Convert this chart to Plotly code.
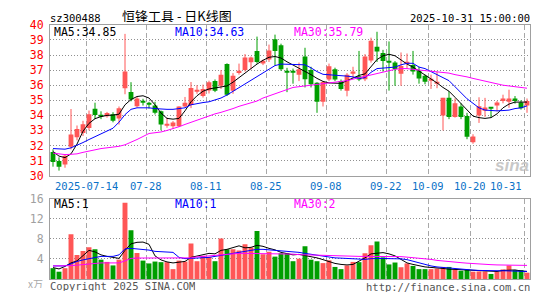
import plotly.graph_objects as go

DATES = [
    "2025-07-04", "2025-07-07", "2025-07-08", "2025-07-09", "2025-07-10", "2025-07-11",
    "2025-07-14", "2025-07-15", "2025-07-16", "2025-07-17", "2025-07-18", "2025-07-21",
    "2025-07-22", "2025-07-23", "2025-07-24", "2025-07-25", "2025-07-28", "2025-07-29",
    "2025-07-30", "2025-07-31", "2025-08-01", "2025-08-04", "2025-08-05", "2025-08-06",
    "2025-08-07", "2025-08-08", "2025-08-11", "2025-08-12", "2025-08-13", "2025-08-14",
    "2025-08-15", "2025-08-18", "2025-08-19", "2025-08-20", "2025-08-21", "2025-08-22",
    "2025-08-25", "2025-08-26", "2025-08-27", "2025-08-28", "2025-08-29", "2025-09-01",
    "2025-09-02", "2025-09-03", "2025-09-04", "2025-09-05", "2025-09-08", "2025-09-09",
    "2025-09-10", "2025-09-11", "2025-09-12", "2025-09-15", "2025-09-16", "2025-09-17",
    "2025-09-18", "2025-09-19", "2025-09-22", "2025-09-23", "2025-09-24", "2025-09-25",
    "2025-09-26", "2025-09-29", "2025-09-30", "2025-10-09", "2025-10-10", "2025-10-13",
    "2025-10-14", "2025-10-15", "2025-10-16", "2025-10-17", "2025-10-20", "2025-10-21",
    "2025-10-22", "2025-10-23", "2025-10-24", "2025-10-27", "2025-10-28", "2025-10-29",
    "2025-10-30", "2025-10-31",
]

OPEN = [31.58, 30.97, 30.74, 31.92, 32.55, 32.84, 33.16, 34.44, 34.02, 33.94,
        34.08, 33.79, 35.80, 35.55, 34.60, 34.97, 34.80, 34.65, 34.27, 33.31,
        33.28, 33.28, 34.59, 34.69, 35.58, 35.28, 35.65, 36.27, 35.96, 37.41,
        35.64, 36.80, 37.01, 37.52, 38.27, 37.43, 37.71, 39.05, 38.65, 36.88,
        36.88, 36.70, 37.90, 37.01, 36.17, 34.91, 36.38, 37.05, 36.27, 35.64,
        36.80, 36.59, 36.40, 37.64, 38.55, 38.13, 37.56, 37.50, 36.76, 37.42,
        37.33, 36.95, 36.63, 36.30, 36.15, 34.00, 35.16, 33.90, 34.59, 33.96,
        32.22, 34.00, 34.30, 34.52, 34.65, 34.95, 34.90, 35.12, 34.86, 34.65]
HIGH = [31.75, 31.22, 31.43, 34.42, 33.33, 33.64, 34.32, 34.84, 34.27, 34.23,
        34.21, 34.59, 39.40, 36.20, 35.22, 35.10, 34.90, 34.90, 34.32, 33.85,
        33.62, 34.60, 35.22, 36.21, 36.00, 36.04, 36.30, 36.38, 37.00, 37.45,
        36.80, 37.43, 38.06, 37.90, 39.22, 37.70, 38.69, 39.35, 38.75, 37.15,
        37.10, 37.50, 38.48, 37.22, 36.20, 36.27, 37.43, 37.16, 36.38, 36.80,
        37.22, 38.27, 38.06, 39.15, 39.54, 38.34, 38.90, 37.60, 38.17, 38.10,
        38.27, 37.22, 36.70, 36.70, 36.90, 35.16, 35.60, 35.12, 34.80, 34.17,
        32.75, 35.20, 35.16, 34.55, 34.95, 35.37, 35.70, 35.28, 35.00, 35.12]
LOW = [30.60, 30.34, 30.53, 31.75, 32.34, 32.63, 33.01, 33.75, 33.75, 33.85,
       33.54, 33.39, 35.40, 34.93, 34.53, 34.65, 34.45, 34.06, 33.01, 33.18,
       33.10, 33.22, 34.53, 34.48, 35.43, 35.18, 35.45, 35.54, 35.75, 35.28,
       35.43, 36.70, 36.90, 37.05, 37.43, 37.33, 37.54, 37.30, 36.95, 35.54,
       36.10, 36.27, 35.85, 35.85, 34.17, 34.59, 36.27, 36.27, 35.64, 35.26,
       36.48, 36.27, 36.27, 37.50, 37.54, 36.90, 35.64, 35.96, 35.96, 37.10,
       36.70, 36.10, 36.06, 35.75, 35.80, 33.00, 33.75, 33.85, 33.75, 32.42,
       32.12, 33.50, 33.90, 33.85, 34.27, 34.80, 34.50, 34.78, 34.38, 34.17]
CLOSE = [30.91, 30.59, 31.33, 32.74, 33.09, 33.41, 34.08, 34.02, 33.96, 34.15,
         33.64, 34.48, 36.90, 35.05, 35.12, 34.84, 34.70, 34.17, 33.39, 33.39,
         33.53, 34.59, 34.84, 35.81, 35.68, 35.75, 36.20, 35.64, 36.70, 35.37,
         36.63, 36.95, 37.83, 37.83, 37.54, 37.62, 38.30, 38.27, 37.05, 36.83,
         36.83, 37.05, 36.40, 36.06, 34.91, 36.21, 37.26, 36.38, 35.75, 36.69,
         36.90, 36.38, 37.90, 38.95, 38.23, 37.60, 37.52, 37.07, 37.28, 37.50,
         36.91, 36.44, 36.23, 36.35, 36.20, 35.16, 33.90, 34.80, 33.90, 32.59,
         32.60, 34.60, 34.52, 34.44, 34.86, 35.12, 35.12, 34.95, 34.48, 34.95]

MA5 = [31.60, 31.30, 31.20, 31.45, 32.10, 32.95, 33.47, 33.78, 33.92, 34.00,
       34.02, 34.08, 34.70, 35.05, 35.25, 35.30, 35.15, 34.70, 34.15, 33.80,
       33.75, 33.80, 34.30, 34.90, 35.30, 35.60, 35.75, 35.80, 35.90, 35.95,
       36.20, 36.50, 36.85, 37.10, 37.40, 37.65, 37.85, 37.90, 37.80, 37.55,
       37.35, 37.15, 36.95, 36.70, 36.45, 36.25, 36.15, 36.12, 36.12, 36.30,
       36.50, 36.65, 36.75, 37.25, 37.70, 37.95, 38.05, 37.95, 37.65, 37.40,
       37.20, 36.95, 36.70, 36.45, 36.15, 35.85, 35.60, 35.20, 34.80, 34.35,
       33.95, 33.85, 33.80, 33.85, 34.10, 34.50, 34.75, 34.88, 34.90, 34.88]
MA10 = [31.80, 31.78, 31.76, 31.85, 32.00, 32.20, 32.40, 32.60, 32.80, 32.95,
        33.15, 33.55, 34.05, 34.40, 34.50, 34.50, 34.50, 34.45, 34.40, 34.40,
        34.40, 34.45, 34.50, 34.70, 34.80, 34.85, 34.90, 35.00, 35.15, 35.35,
        35.60, 35.85, 36.10, 36.35, 36.60, 36.85, 37.10, 37.30, 37.40, 37.40,
        37.40, 37.40, 37.35, 37.15, 36.90, 36.72, 36.70, 36.68, 36.66, 36.60,
        36.55, 36.45, 36.50, 36.85, 37.10, 37.15, 37.18, 37.20, 37.35, 37.45,
        37.45, 37.20, 37.10, 36.90, 36.70, 36.50, 36.30, 35.90, 35.50, 35.10,
        34.80, 34.50, 34.35, 34.30, 34.30, 34.32, 34.35, 34.45, 34.50, 34.63]
MA30 = [31.50, 31.45, 31.40, 31.42, 31.45, 31.55, 31.65, 31.72, 31.80, 31.85,
        31.90, 31.95, 32.05, 32.20, 32.40, 32.60, 32.80, 32.85, 32.90, 33.00,
        33.10, 33.25, 33.40, 33.55, 33.70, 33.85, 34.00, 34.10, 34.20, 34.30,
        34.45, 34.60, 34.70, 34.80, 34.95, 35.15, 35.30, 35.45, 35.60, 35.75,
        35.85, 35.90, 35.95, 36.00, 36.05, 36.10, 36.15, 36.20, 36.25, 36.30,
        36.40, 36.50, 36.60, 36.70, 36.80, 36.90, 37.00, 37.05, 37.10, 37.10,
        37.05, 37.00, 36.98, 36.95, 36.90, 36.85, 36.80, 36.70, 36.65, 36.55,
        36.45, 36.35, 36.25, 36.15, 36.05, 36.00, 35.95, 35.90, 35.85, 35.80]

VOLUME = [2.15, 1.45, 2.15, 8.90, 4.80, 5.56, 6.30, 5.93, 3.85, 3.40,
          2.70, 3.85, 15.2, 9.70, 5.18, 3.66, 3.10, 3.47, 3.35, 3.35,
          1.96, 3.66, 3.47, 7.07, 3.54, 4.60, 4.40, 3.54, 8.08, 5.93,
          5.93, 5.68, 6.94, 6.25, 9.53, 4.92, 5.43, 4.45, 5.10, 5.10,
          3.54, 4.04, 6.50, 3.85, 3.54, 3.16, 3.72, 2.40, 1.96, 2.70,
          3.40, 3.35, 5.10, 6.70, 7.45, 4.30, 2.90, 3.28, 2.34, 3.10,
          2.60, 1.96, 1.96, 1.96, 2.08, 2.40, 2.40, 1.83, 1.64, 1.83,
          1.45, 1.50, 1.50, 1.00, 1.45, 1.90, 2.70, 1.77, 1.77, 1.26]
VMA5 = [2.27, 2.00, 2.50, 3.20, 3.60, 4.60, 5.70, 5.40, 4.80, 4.50,
        4.30, 4.10, 5.70, 7.00, 7.30, 7.35, 6.90, 4.60, 3.80, 3.40,
        3.20, 3.30, 3.50, 4.30, 4.60, 4.80, 5.10, 5.00, 5.70, 5.90,
        6.20, 6.60, 6.20, 6.30, 6.70, 6.50, 6.10, 5.80, 5.30, 5.00,
        4.80, 4.90, 4.70, 4.50, 4.20, 3.85, 3.40, 3.10, 2.90, 2.80,
        2.90, 3.50, 4.20, 5.00, 5.20, 5.25, 5.00, 4.60, 3.90, 3.20,
        2.90, 2.60, 2.40, 2.30, 2.27, 2.10, 1.96, 1.90, 1.80, 1.75,
        1.65, 1.55, 1.50, 1.50, 1.50, 1.70, 1.80, 1.80, 1.60, 1.50]
VMA10 = [2.60, 2.60, 2.60, 3.00, 3.50, 3.80, 4.00, 4.30, 4.50, 4.50,
         4.50, 4.80, 6.00, 6.10, 6.00, 5.90, 5.75, 5.50, 5.40, 5.35,
         5.30, 4.30, 4.05, 4.10, 4.15, 4.20, 4.30, 4.50, 4.70, 4.90,
         5.10, 5.30, 5.45, 5.70, 5.90, 5.90, 5.80, 5.60, 5.55, 5.50,
         5.45, 5.30, 5.10, 4.90, 4.70, 4.50, 4.30, 4.20, 4.15, 4.05,
         3.95, 3.85, 3.90, 4.04, 4.10, 4.10, 4.05, 4.04, 4.00, 3.85,
         3.50, 3.20, 2.90, 2.60, 2.40, 2.27, 2.20, 2.10, 2.00, 1.90,
         1.77, 1.70, 1.64, 1.64, 1.64, 1.64, 1.64, 1.62, 1.60, 1.50]
VMA30 = [2.60, 2.60, 2.60, 2.65, 2.75, 2.90, 3.05, 3.20, 3.20, 3.20,
         3.20, 3.20, 3.60, 4.10, 4.17, 4.17, 4.17, 4.17, 4.17, 4.17,
         4.17, 4.17, 4.10, 4.20, 4.40, 4.50, 4.60, 4.70, 4.80, 4.95,
         5.10, 5.10, 5.10, 5.10, 5.10, 5.10, 5.10, 5.10, 5.10, 5.05,
         4.95, 4.85, 4.80, 4.75, 4.70, 4.70, 4.65, 4.60, 4.50, 4.50,
         4.50, 4.50, 4.50, 4.50, 4.50, 4.50, 4.50, 4.50, 4.45, 4.35,
         4.25, 4.15, 4.05, 3.90, 3.70, 3.55, 3.45, 3.35, 3.25, 3.15,
         3.05, 3.00, 2.90, 2.85, 2.80, 2.78, 2.75, 2.72, 2.70, 2.70]

TICK_DATES = ["2025-07-14", "2025-07-28", "2025-08-11", "2025-08-25", "2025-09-08",
              "2025-09-22", "2025-10-09", "2025-10-20", "2025-10-31"]
TICK_LABELS = ["2025-07-14", "07-28", "08-11", "08-25", "09-08", "09-22",
               "10-09", "10-20", "10-31"]
PRICE_TICKS = [30, 31, 32, 33, 34, 35, 36, 37, 38, 39, 40]
VOL_TICKS = [4, 8, 12, 16]

STOCK_CODE = "sz300488"
TITLE = "恒锋工具\u00a0-\u00a0日K线图"
TIMESTAMP = "2025-10-31 15:00:00"
MA_LABELS = ["MA5:34.85", "MA10:34.63", "MA30:35.79"]
VMA_LABELS = ["MA5:1", "MA10:1", "MA30:2"]
VOL_UNIT = "x万"

# ---------------------------------------------------------------- styling
W, H = 545, 300
RED = "#FF5656"
GREEN = "#009E00"
MA_COLORS = ["#000000", "#0000FF", "#FF00FF"]
MONO = "DejaVu Sans Mono"
L, R = 50, 530
P_TOP, P_BOT = 18.7, 177.0
V_TOP, V_BOT = 201.0, 285.3


def px(x):
    return x / W


def py(y):
    return 1 - y / H


idx = list(range(len(DATES)))
up = [c >= o for o, c in zip(OPEN, CLOSE)]

fig = go.Figure()

# wicks
for flag, col in ((True, RED), (False, GREEN)):
    xs, ys = [], []
    for i in idx:
        if up[i] == flag:
            xs += [i, i, None]
            ys += [LOW[i], HIGH[i], None]
    fig.add_trace(go.Scatter(x=xs, y=ys, mode="lines", line=dict(color=col, width=1),
                             xaxis="x", yaxis="y", hoverinfo="skip"))

# bodies
for flag, col in ((True, RED), (False, GREEN)):
    bx = [i for i in idx if up[i] == flag]
    base = [min(OPEN[i], CLOSE[i]) for i in bx]
    hgt = [max(abs(CLOSE[i] - OPEN[i]), 0.07) for i in bx]
    fig.add_trace(go.Bar(x=bx, y=hgt, base=base, width=0.8, marker=dict(color=col, line=dict(width=0)),
                         xaxis="x", yaxis="y"))

for series, col in zip((MA5, MA10, MA30), MA_COLORS):
    fig.add_trace(go.Scatter(x=idx, y=series, mode="lines", line=dict(color=col, width=1),
                             xaxis="x", yaxis="y"))

# volume
fig.add_trace(go.Bar(x=idx, y=VOLUME, width=0.82,
                     marker=dict(color=[RED if u else GREEN for u in up], line=dict(width=0)),
                     xaxis="x2", yaxis="y2"))
for series, col in zip((VMA5, VMA10, VMA30), MA_COLORS):
    fig.add_trace(go.Scatter(x=idx, y=series, mode="lines", line=dict(color=col, width=1),
                             xaxis="x2", yaxis="y2"))

grid_x = [DATES.index(d) - 0.5 for d in TICK_DATES]

xcommon = dict(domain=[px(L), px(R)], range=[-0.5, len(DATES) - 0.5], tickvals=grid_x,
               showticklabels=False, ticks="", showgrid=True, gridcolor="#A8A8A8",
               griddash="5px,3px", gridwidth=1, zeroline=False, showline=True,
               linecolor="#A0A0A0", linewidth=1, mirror=True, fixedrange=True)

fig.update_layout(
    width=W, height=H, margin=dict(l=0, r=0, t=0, b=0),
    paper_bgcolor="white", plot_bgcolor="white", showlegend=False, barmode="overlay",
    xaxis=dict(anchor="y", **xcommon),
    xaxis2=dict(anchor="y2", matches="x", **xcommon),
    yaxis=dict(domain=[py(P_BOT), py(P_TOP)], range=[30, 40], tickvals=PRICE_TICKS,
               ticks="", tickfont=dict(family=MONO, size=11.5, color="#FF0000"),
               showgrid=True, gridcolor="#909090", griddash="1px,2px", zeroline=False,
               showline=True, linecolor="#A0A0A0", mirror=True, anchor="x",
               ticklabelstandoff=3),
    yaxis2=dict(domain=[py(V_BOT), py(V_TOP)], range=[0, 16], tickvals=VOL_TICKS,
                ticks="", tickfont=dict(family=MONO, size=11.5, color="#A0A0A0"),
                showgrid=True, gridcolor="#909090", griddash="1px,2px", zeroline=False,
                showline=True, linecolor="#A0A0A0", mirror=True, anchor="x2",
                ticklabelstandoff=3),
)

ann = []


def text(t, x, y, size=10, color="#000", anchor="left", family=MONO, xref="paper", xv=None,
         height=None):
    a = dict(text=t, x=xv if xv is not None else px(x), y=py(y), xref=xref, yref="paper",
             xanchor=anchor, yanchor="middle", showarrow=False, borderpad=0,
             font=dict(family=family, size=size, color=color))
    if height:
        a["height"] = height
    ann.append(a)


text(STOCK_CODE, 49, 11.5, size=10.5, height=11)
text(TITLE, 121, 9, size=13, family="Noto Sans CJK SC", height=13)
text(TIMESTAMP, 531, 11.5, size=10.5, anchor="right", height=11)

for lab, col, x in zip(MA_LABELS, MA_COLORS, (53, 174, 293)):
    text(lab, x, 25.5, size=11.5, color=col, height=11)
for lab, col, x in zip(VMA_LABELS, MA_COLORS, (53, 174, 293)):
    text(lab, x, 206.5, size=11.5, color=col, height=11)

for k, (d, lab) in enumerate(zip(TICK_DATES, TICK_LABELS)):
    gx = DATES.index(d) - 0.5
    if k == len(TICK_DATES) - 1:
        text(lab, 0, 187, size=10.5, color="#0A72C8", anchor="right", xref="x", xv=gx - 0.1,
             height=11)
    else:
        text(lab, 0, 187, size=10.5, color="#0A72C8", anchor="center", xref="x", xv=gx,
             height=11)

text(VOL_UNIT, 44, 290, size=10, color="#A8A8A8", anchor="right", family="Noto Sans CJK SC",
     height=10)
text("Copyright 2025 SINA.COM", 49, 292.5, size=10.5, color="#555555", height=11)
text("http://finance.sina.com.cn", 531, 293, size=10.5, color="#555555", anchor="right",
     height=11)
text("<b><i>sina</i></b>", 512, 166, size=17, color="#C8C8C8", anchor="center",
     family="Liberation Sans", height=14)

fig.update_layout(annotations=ann)
fig.write_html("out.html")
